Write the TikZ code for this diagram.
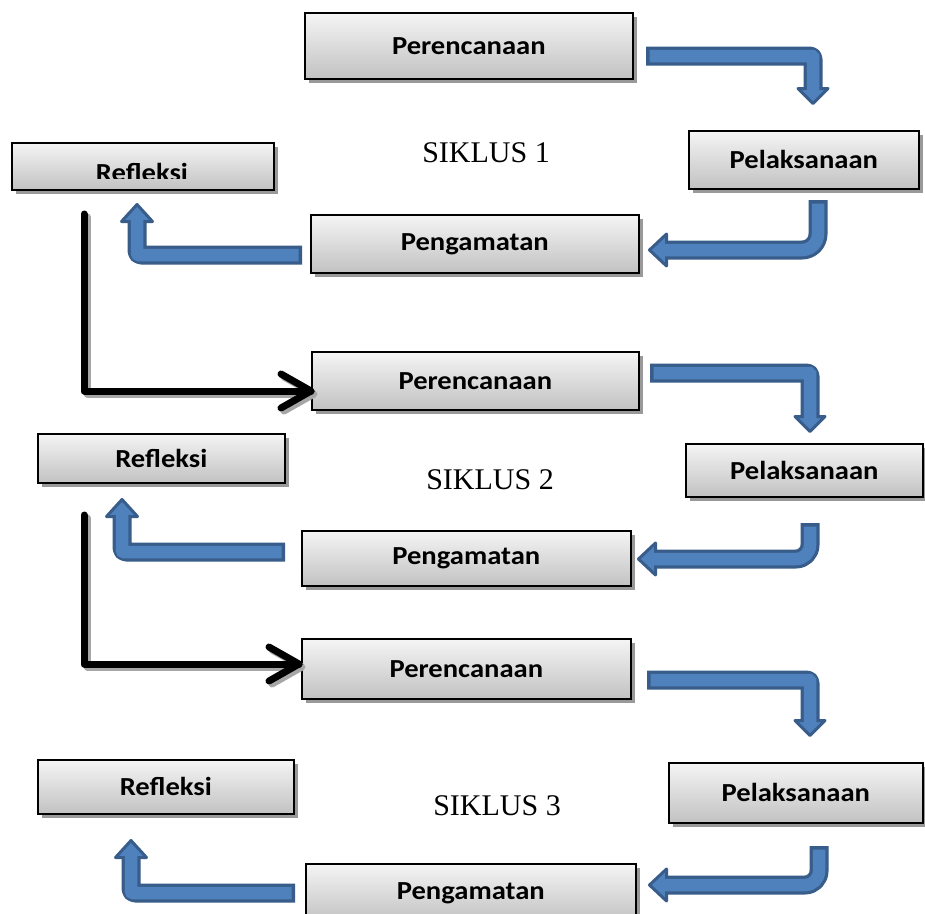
\documentclass[tikz,border=0pt]{standalone}
\usepackage{fontspec}
\newfontfamily\boxfont{Carlito}
\newfontfamily\cycfont{Liberation Serif}
\usetikzlibrary{shadows,calc}
\definecolor{bblue}{HTML}{4F81BD}
\definecolor{bdark}{HTML}{385D8A}
\tikzset{
  stepbox/.style={draw=black, line width=1.6pt, top color=black!4, bottom color=black!24,
    inner sep=0pt, anchor=north west,
    drop shadow={shadow xshift=4pt, shadow yshift=-4pt, fill=black!40, opacity=1},
    font=\boxfont\bfseries\fontsize{26}{30}\selectfont},
  boxtext/.style={inner sep=0pt, font=\boxfont\bfseries\fontsize{26}{30}\selectfont},
  cyc/.style={font=\cycfont\fontsize{30}{34}\selectfont, inner sep=0pt},
  bshO/.style={draw=bdark, line width=19pt, line join=round},
  bshI/.style={draw=bblue, line width=12.5pt},
  bhead/.style={fill=bblue, draw=bdark, line width=3pt, line join=round},
  blk/.style={draw=black, line width=7pt, line cap=round, line join=round},
  blkshadow/.style={draw=black!35, line width=7pt, line cap=round, line join=round},
}
\newcommand{\mytxt}[1]{\scalebox{1.1}[1]{#1}}
\newcommand{\headD}[1]{\draw[bhead] (#1) -- ++(-15,-15) -- ++(30,0) -- cycle;}
\newcommand{\headL}[1]{\draw[bhead] (#1) -- ++(17,-16) -- ++(0,32) -- cycle;}
\newcommand{\headU}[1]{\draw[bhead] (#1) -- ++(-15.5,17) -- ++(31,0) -- cycle;}
\begin{document}
\begin{tikzpicture}[x=1pt,y=-1pt]
\clip (0,0) rectangle (925,913);
\fill[white] (0,0) rectangle (925,913);

% ---------------- boxes
\node[stepbox, minimum width=328pt, minimum height=66pt] (p1) at (304,12) {\mytxt{Perencanaan}};
\node[stepbox, minimum width=230pt, minimum height=58pt] (l1) at (688,130) {\mytxt{Pelaksanaan}};
\node[stepbox, minimum width=262pt, minimum height=47pt] (r1) at (11,142) {};
\begin{scope}
  \clip (11,142) rectangle (273,178);
  \node[boxtext, anchor=base] (r1t) at (142,181) {\mytxt{Refleksi}};
\end{scope}
\node[stepbox, minimum width=328pt, minimum height=58pt] (g1) at (310,214) {\mytxt{Pengamatan}};

\node[stepbox, minimum width=327pt, minimum height=58pt] (p2) at (311,351) {\mytxt{Perencanaan}};
\node[stepbox, minimum width=237pt, minimum height=53pt] (l2) at (685,443) {\mytxt{Pelaksanaan}};
\node[stepbox, minimum width=247pt, minimum height=49pt] (r2) at (37,433) {\mytxt{Refleksi}};
\node[stepbox, minimum width=329pt, minimum height=55pt] (g2) at (301,530) {\mytxt{Pengamatan}};

\node[stepbox, minimum width=329pt, minimum height=60pt] (p3) at (301,638) {\mytxt{Perencanaan}};
\node[stepbox, minimum width=254pt, minimum height=60pt] (l3) at (668,762) {\mytxt{Pelaksanaan}};
\node[stepbox, minimum width=256pt, minimum height=54pt] (r3) at (37,759) {\mytxt{Refleksi}};
\node[stepbox, minimum width=330pt, minimum height=58pt] (g3) at (305,863) {\mytxt{Pengamatan}};

% ---------------- cycle labels
\node[cyc] (s1) at (486,153) {SIKLUS 1};
\node[cyc] (s2) at (490,480) {SIKLUS 2};
\node[cyc] (s3) at (497,806) {SIKLUS 3};

% ---------------- blue arrows
% cycle 1
\coordinate (a1s) at (646,56); \coordinate (a1c) at (813,56); \coordinate (a1t) at (813,103.5);
\draw[bshO, rounded corners=3pt] (a1s) -- (a1c) -- (813,89.5);
\headD{a1t}
\draw[bshI, rounded corners=1pt] (649.5,56) -- (a1c) -- (813,92);

\coordinate (a2s) at (818,200); \coordinate (a2c) at (818,250); \coordinate (a2t) at (649.5,250);
\draw[bshO, rounded corners=16pt] (a2s) -- (a2c) -- (665.5,250);
\headL{a2t}
\draw[bshI, rounded corners=16pt] (818,203.5) -- (a2c) -- (663,250);

\coordinate (a3s) at (302,255); \coordinate (a3c) at (137,255); \coordinate (a3t) at (137,204.5);
\draw[bshO, rounded corners=4pt] (a3s) -- (a3c) -- (137,220.5);
\headU{a3t}
\draw[bshI, rounded corners=2pt] (298.5,255) -- (a3c) -- (137,218);

% cycle 2
\coordinate (a4s) at (650,373); \coordinate (a4c) at (810,373); \coordinate (a4t) at (810,431.5);
\draw[bshO, rounded corners=3pt] (a4s) -- (a4c) -- (810,417.5);
\headD{a4t}
\draw[bshI, rounded corners=1pt] (653.5,373) -- (a4c) -- (810,420);

\coordinate (a5s) at (810,523); \coordinate (a5c) at (810,559); \coordinate (a5t) at (638.5,559);
\draw[bshO, rounded corners=14pt] (a5s) -- (a5c) -- (654.5,559);
\headL{a5t}
\draw[bshI, rounded corners=14pt] (810,526.5) -- (a5c) -- (652,559);

\coordinate (a6s) at (285,552); \coordinate (a6c) at (122,552); \coordinate (a6t) at (122,499.5);
\draw[bshO, rounded corners=4pt] (a6s) -- (a6c) -- (122,515.5);
\headU{a6t}
\draw[bshI, rounded corners=2pt] (281.5,552) -- (a6c) -- (122,513);

% cycle 3
\coordinate (a7s) at (647,680); \coordinate (a7c) at (810,680); \coordinate (a7t) at (810,735.5);
\draw[bshO, rounded corners=3pt] (a7s) -- (a7c) -- (810,721.5);
\headD{a7t}
\draw[bshI, rounded corners=1pt] (650.5,680) -- (a7c) -- (810,724);

\coordinate (a8s) at (819,846); \coordinate (a8c) at (819,885); \coordinate (a8t) at (649.5,885);
\draw[bshO, rounded corners=14pt] (a8s) -- (a8c) -- (665.5,885);
\headL{a8t}
\draw[bshI, rounded corners=14pt] (819,849.5) -- (a8c) -- (663,885);

\coordinate (a9s) at (295,893); \coordinate (a9c) at (131,893); \coordinate (a9t) at (131,840.5);
\draw[bshO, rounded corners=4pt] (a9s) -- (a9c) -- (131,856.5);
\headU{a9t}
\draw[bshI, rounded corners=2pt] (291.5,893) -- (a9c) -- (131,854);

% ---------------- black arrows
\coordinate (b1s) at (84,214); \coordinate (b1c) at (84,391); \coordinate (b1t) at (311,391);
\draw[blkshadow] (87,217) -- (87,394) -- (310,394);
\draw[blkshadow] (284,377) -- (314,394) -- (284,411);
\draw[blk] (b1s) -- (b1c) -- (b1t);
\draw[blk] ($(b1t)+(-30,-17)$) -- (b1t) -- ($(b1t)+(-30,17)$);

\coordinate (b2s) at (84,515); \coordinate (b2c) at (84,664); \coordinate (b2t) at (299,664);
\draw[blkshadow] (87,518) -- (87,667) -- (298,667);
\draw[blkshadow] (272,650) -- (302,667) -- (272,684);
\draw[blk] (b2s) -- (b2c) -- (b2t);
\draw[blk] ($(b2t)+(-30,-17)$) -- (b2t) -- ($(b2t)+(-30,17)$);
\end{tikzpicture}
\end{document}
